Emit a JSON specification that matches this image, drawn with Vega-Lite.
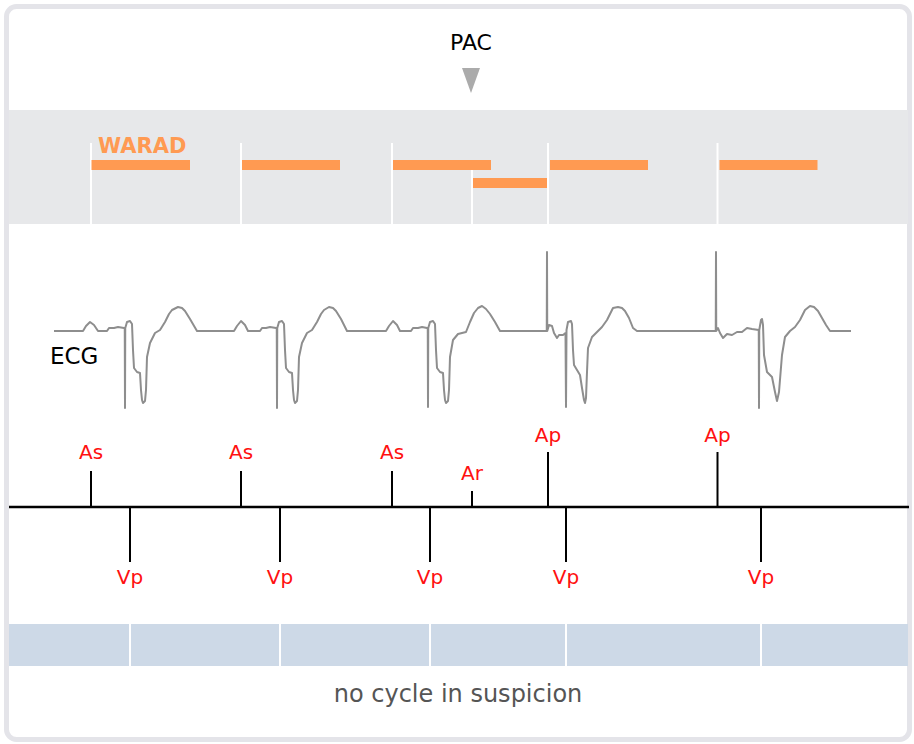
{
  "$schema": "https://vega.github.io/schema/vega-lite/v6.json",
  "width": 914,
  "height": 744,
  "autosize": {"type": "fit", "contains": "padding"},
  "padding": 0,
  "background": "white",
  "config": {"view": {"stroke": null}, "font": "DejaVu Sans"},
  "datasets": {
    "events": [
      {"t": 364, "label": "As", "chamber": "A"},
      {"t": 520, "label": "Vp", "chamber": "V"},
      {"t": 964, "label": "As", "chamber": "A"},
      {"t": 1120, "label": "Vp", "chamber": "V"},
      {"t": 1568, "label": "As", "chamber": "A"},
      {"t": 1720, "label": "Vp", "chamber": "V"},
      {"t": 1888, "label": "Ar", "chamber": "A"},
      {"t": 2192, "label": "Ap", "chamber": "A"},
      {"t": 2264, "label": "Vp", "chamber": "V"},
      {"t": 2870, "label": "Ap", "chamber": "A"},
      {"t": 3044, "label": "Vp", "chamber": "V"}
    ],
    "warad": [
      {"start": 366, "end": 760, "row": 1},
      {"start": 968, "end": 1360, "row": 1},
      {"start": 1572, "end": 1964, "row": 1},
      {"start": 1892, "end": 2188, "row": 2},
      {"start": 2200, "end": 2592, "row": 1},
      {"start": 2878, "end": 3270, "row": 1}
    ],
    "ecg": [
      {"t": 216, "mV": 0}, {"t": 332, "mV": 0}, {"t": 344, "mV": 0.125}, {"t": 360, "mV": 0.225}, {"t": 376, "mV": 0.15}, {"t": 392, "mV": 0},
      {"t": 428, "mV": 0}, {"t": 436, "mV": 0.075}, {"t": 456, "mV": 0.075}, {"t": 472, "mV": 0.1}, {"t": 496, "mV": 0.075}, {"t": 499, "mV": 0.075},
      {"t": 500, "mV": -1.925}, {"t": 501, "mV": 0.075}, {"t": 508, "mV": 0.225}, {"t": 520, "mV": 0.25}, {"t": 528, "mV": 0.175},
      {"t": 532, "mV": -0.475}, {"t": 536, "mV": -0.925}, {"t": 548, "mV": -1.025}, {"t": 560, "mV": -1.05}, {"t": 564, "mV": -1.475},
      {"t": 568, "mV": -1.725}, {"t": 572, "mV": -1.8}, {"t": 580, "mV": -1.75}, {"t": 584, "mV": -1.475}, {"t": 588, "mV": -0.65},
      {"t": 600, "mV": -0.3}, {"t": 620, "mV": -0.05}, {"t": 640, "mV": 0.025}, {"t": 660, "mV": 0.225}, {"t": 676, "mV": 0.425},
      {"t": 688, "mV": 0.525}, {"t": 712, "mV": 0.6}, {"t": 728, "mV": 0.575}, {"t": 740, "mV": 0.5}, {"t": 760, "mV": 0.3}, {"t": 788, "mV": 0},
      {"t": 936, "mV": 0}, {"t": 948, "mV": 0.125}, {"t": 964, "mV": 0.25}, {"t": 980, "mV": 0.15}, {"t": 992, "mV": 0},
      {"t": 1040, "mV": 0}, {"t": 1048, "mV": 0.075}, {"t": 1064, "mV": 0.075}, {"t": 1080, "mV": 0.1}, {"t": 1104, "mV": 0.075}, {"t": 1107, "mV": 0.075},
      {"t": 1108, "mV": -1.925}, {"t": 1109, "mV": 0.075}, {"t": 1116, "mV": 0.225}, {"t": 1128, "mV": 0.25}, {"t": 1136, "mV": 0.175},
      {"t": 1140, "mV": -0.475}, {"t": 1144, "mV": -0.925}, {"t": 1156, "mV": -1.025}, {"t": 1168, "mV": -1.05}, {"t": 1172, "mV": -1.475},
      {"t": 1176, "mV": -1.725}, {"t": 1180, "mV": -1.8}, {"t": 1188, "mV": -1.75}, {"t": 1192, "mV": -1.475}, {"t": 1196, "mV": -0.65},
      {"t": 1208, "mV": -0.3}, {"t": 1228, "mV": -0.05}, {"t": 1248, "mV": 0.025}, {"t": 1268, "mV": 0.225}, {"t": 1284, "mV": 0.425},
      {"t": 1296, "mV": 0.525}, {"t": 1316, "mV": 0.6}, {"t": 1332, "mV": 0.575}, {"t": 1344, "mV": 0.5}, {"t": 1364, "mV": 0.3}, {"t": 1388, "mV": 0},
      {"t": 1544, "mV": 0}, {"t": 1556, "mV": 0.125}, {"t": 1572, "mV": 0.25}, {"t": 1588, "mV": 0.15}, {"t": 1600, "mV": 0},
      {"t": 1644, "mV": 0}, {"t": 1652, "mV": 0.075}, {"t": 1672, "mV": 0.075}, {"t": 1688, "mV": 0.1}, {"t": 1708, "mV": 0.075}, {"t": 1711, "mV": 0.075},
      {"t": 1712, "mV": -1.9}, {"t": 1713, "mV": 0.075}, {"t": 1720, "mV": 0.225}, {"t": 1732, "mV": 0.25}, {"t": 1740, "mV": 0.175},
      {"t": 1744, "mV": -0.475}, {"t": 1748, "mV": -0.925}, {"t": 1760, "mV": -1.025}, {"t": 1772, "mV": -1.05}, {"t": 1776, "mV": -1.475},
      {"t": 1780, "mV": -1.725}, {"t": 1784, "mV": -1.8}, {"t": 1792, "mV": -1.75}, {"t": 1796, "mV": -1.475}, {"t": 1800, "mV": -0.65},
      {"t": 1812, "mV": -0.225}, {"t": 1832, "mV": -0.075}, {"t": 1864, "mV": -0.025}, {"t": 1880, "mV": 0.225}, {"t": 1896, "mV": 0.45},
      {"t": 1912, "mV": 0.575}, {"t": 1928, "mV": 0.625}, {"t": 1944, "mV": 0.55}, {"t": 1960, "mV": 0.425}, {"t": 1980, "mV": 0.225}, {"t": 2000, "mV": 0},
      {"t": 2187, "mV": 0}, {"t": 2188, "mV": 1.975}, {"t": 2189, "mV": 0},
      {"t": 2196, "mV": 0.15}, {"t": 2208, "mV": 0.125}, {"t": 2216, "mV": -0.05}, {"t": 2228, "mV": -0.175}, {"t": 2236, "mV": -0.1},
      {"t": 2252, "mV": -0.1}, {"t": 2262, "mV": -0.05}, {"t": 2264, "mV": -1.9}, {"t": 2266, "mV": 0.025}, {"t": 2272, "mV": 0.225},
      {"t": 2284, "mV": 0.25}, {"t": 2288, "mV": 0.175}, {"t": 2292, "mV": -0.475}, {"t": 2296, "mV": -0.85}, {"t": 2308, "mV": -0.975},
      {"t": 2320, "mV": -1.1}, {"t": 2328, "mV": -1.425}, {"t": 2336, "mV": -1.725}, {"t": 2340, "mV": -1.8}, {"t": 2344, "mV": -1.675},
      {"t": 2348, "mV": -1.025}, {"t": 2352, "mV": -0.425}, {"t": 2368, "mV": -0.15}, {"t": 2388, "mV": -0.025}, {"t": 2408, "mV": 0.1},
      {"t": 2428, "mV": 0.275}, {"t": 2452, "mV": 0.575}, {"t": 2472, "mV": 0.6}, {"t": 2488, "mV": 0.575}, {"t": 2500, "mV": 0.5},
      {"t": 2516, "mV": 0.325}, {"t": 2532, "mV": 0.075}, {"t": 2548, "mV": 0},
      {"t": 2863, "mV": 0}, {"t": 2864, "mV": 1.975}, {"t": 2865, "mV": 0},
      {"t": 2872, "mV": 0.075}, {"t": 2880, "mV": -0.05}, {"t": 2892, "mV": -0.175}, {"t": 2908, "mV": -0.075}, {"t": 2928, "mV": -0.1},
      {"t": 2948, "mV": -0.025}, {"t": 2968, "mV": -0.025}, {"t": 2988, "mV": 0.075}, {"t": 3008, "mV": 0.05}, {"t": 3035, "mV": 0.025},
      {"t": 3036, "mV": -1.925}, {"t": 3037, "mV": 0.025}, {"t": 3044, "mV": 0.275}, {"t": 3048, "mV": 0.3}, {"t": 3052, "mV": 0.15},
      {"t": 3056, "mV": -0.6}, {"t": 3068, "mV": -1.025}, {"t": 3088, "mV": -1.15}, {"t": 3100, "mV": -1.525}, {"t": 3108, "mV": -1.75},
      {"t": 3116, "mV": -1.525}, {"t": 3128, "mV": -0.6}, {"t": 3140, "mV": -0.15}, {"t": 3160, "mV": 0}, {"t": 3180, "mV": 0.1},
      {"t": 3200, "mV": 0.275}, {"t": 3220, "mV": 0.525}, {"t": 3240, "mV": 0.625}, {"t": 3256, "mV": 0.6}, {"t": 3272, "mV": 0.5},
      {"t": 3288, "mV": 0.325}, {"t": 3304, "mV": 0.15}, {"t": 3320, "mV": 0}, {"t": 3404, "mV": 0}
    ]
  },
  "layer": [
    {
      "layer": [
        {
          "data": {"values": [{}]},
          "mark": {"type": "rect", "fill": "white", "stroke": "#e4e4e9", "strokeWidth": 5, "cornerRadius": 10},
          "encoding": {
            "x": {"datum": 26, "type": "quantitative", "scale": {"domain": [0, 3656], "nice": false, "zero": false}, "axis": null},
            "x2": {"datum": 3638},
            "y": {"datum": 6.5, "type": "quantitative", "scale": {"domain": [0, 744], "reverse": true, "nice": false, "zero": false}, "axis": null},
            "y2": {"datum": 739.5}
          }
        },
        {
          "data": {"values": [{}]},
          "mark": {"type": "rect", "fill": "#e7e8ea"},
          "encoding": {
            "x": {"datum": 36, "type": "quantitative"},
            "x2": {"datum": 3632},
            "y": {"datum": 110, "type": "quantitative"},
            "y2": {"datum": 224}
          }
        },
        {
          "data": {"values": [{}]},
          "mark": {"type": "rect", "fill": "#cdd9e7"},
          "encoding": {
            "x": {"datum": 36, "type": "quantitative"},
            "x2": {"datum": 3632},
            "y": {"datum": 624, "type": "quantitative"},
            "y2": {"datum": 666}
          }
        },
        {
          "data": {"name": "events"},
          "transform": [{"filter": "datum.chamber === 'A' && datum.label !== 'Ar'"}],
          "mark": {"type": "rule", "color": "white", "strokeWidth": 2},
          "encoding": {
            "x": {"field": "t", "type": "quantitative"},
            "y": {"datum": 143, "type": "quantitative"},
            "y2": {"datum": 224}
          }
        },
        {
          "data": {"name": "events"},
          "transform": [{"filter": "datum.label === 'Ar'"}],
          "mark": {"type": "rule", "color": "white", "strokeWidth": 2},
          "encoding": {
            "x": {"field": "t", "type": "quantitative"},
            "y": {"datum": 168, "type": "quantitative"},
            "y2": {"datum": 224}
          }
        },
        {
          "data": {"name": "warad"},
          "transform": [{"filter": "datum.row === 1"}],
          "mark": {"type": "rect", "fill": "#ff9a52"},
          "encoding": {
            "x": {"field": "start", "type": "quantitative"},
            "x2": {"field": "end"},
            "y": {"datum": 160, "type": "quantitative"},
            "y2": {"datum": 170}
          }
        },
        {
          "data": {"name": "warad"},
          "transform": [{"filter": "datum.row === 2"}],
          "mark": {"type": "rect", "fill": "#ff9a52"},
          "encoding": {
            "x": {"field": "start", "type": "quantitative"},
            "x2": {"field": "end"},
            "y": {"datum": 178, "type": "quantitative"},
            "y2": {"datum": 188}
          }
        },
        {
          "data": {"values": [{}]},
          "mark": {"type": "text", "text": "WARAD", "fontSize": 21, "fontWeight": "bold", "color": "#ff9a52", "align": "left", "baseline": "alphabetic"},
          "encoding": {
            "x": {"datum": 392, "type": "quantitative"},
            "y": {"datum": 153, "type": "quantitative"}
          }
        },
        {
          "data": {"values": [{}]},
          "mark": {"type": "text", "text": "PAC", "fontSize": 22, "color": "black", "align": "center", "baseline": "alphabetic"},
          "encoding": {
            "x": {"datum": 1884, "type": "quantitative"},
            "y": {"datum": 50, "type": "quantitative"}
          }
        },
        {
          "data": {"values": [{}]},
          "mark": {"type": "point", "shape": "M-1,-1.4L1,-1.4L0,1.4Z", "size": 324, "filled": true, "color": "#ababab", "opacity": 1, "strokeWidth": 0},
          "encoding": {
            "x": {"datum": 1884, "type": "quantitative"},
            "y": {"datum": 80.5, "type": "quantitative"}
          }
        },
        {
          "data": {"values": [{}]},
          "mark": {"type": "text", "text": "ECG", "fontSize": 23, "color": "black", "align": "left", "baseline": "alphabetic"},
          "encoding": {
            "x": {"datum": 200, "type": "quantitative"},
            "y": {"datum": 364, "type": "quantitative"}
          }
        },
        {
          "data": {"values": [{}]},
          "mark": {"type": "rule", "color": "black", "strokeWidth": 2.5},
          "encoding": {
            "x": {"datum": 36, "type": "quantitative"},
            "x2": {"datum": 3636},
            "y": {"datum": 507, "type": "quantitative"}
          }
        },
        {
          "data": {"name": "events"},
          "transform": [{"filter": "datum.label === 'As'"}],
          "layer": [
            {"mark": {"type": "rule", "color": "black", "strokeWidth": 2}, "encoding": {"y": {"datum": 471, "type": "quantitative"}, "y2": {"datum": 507}}},
            {"mark": {"type": "text", "fontSize": 20, "color": "#ff1010", "align": "center", "baseline": "alphabetic"}, "encoding": {"y": {"datum": 459, "type": "quantitative"}, "text": {"field": "label"}}}
          ],
          "encoding": {"x": {"field": "t", "type": "quantitative"}}
        },
        {
          "data": {"name": "events"},
          "transform": [{"filter": "datum.label === 'Ap'"}],
          "layer": [
            {"mark": {"type": "rule", "color": "black", "strokeWidth": 2}, "encoding": {"y": {"datum": 452, "type": "quantitative"}, "y2": {"datum": 507}}},
            {"mark": {"type": "text", "fontSize": 20, "color": "#ff1010", "align": "center", "baseline": "alphabetic"}, "encoding": {"y": {"datum": 442, "type": "quantitative"}, "text": {"field": "label"}}}
          ],
          "encoding": {"x": {"field": "t", "type": "quantitative"}}
        },
        {
          "data": {"name": "events"},
          "transform": [{"filter": "datum.label === 'Ar'"}],
          "layer": [
            {"mark": {"type": "rule", "color": "black", "strokeWidth": 2}, "encoding": {"y": {"datum": 491, "type": "quantitative"}, "y2": {"datum": 507}}},
            {"mark": {"type": "text", "fontSize": 20, "color": "#ff1010", "align": "center", "baseline": "alphabetic"}, "encoding": {"y": {"datum": 480, "type": "quantitative"}, "text": {"field": "label"}}}
          ],
          "encoding": {"x": {"field": "t", "type": "quantitative"}}
        },
        {
          "data": {"name": "events"},
          "transform": [{"filter": "datum.label === 'Vp'"}],
          "layer": [
            {"mark": {"type": "rule", "color": "black", "strokeWidth": 2}, "encoding": {"y": {"datum": 507, "type": "quantitative"}, "y2": {"datum": 562}}},
            {"mark": {"type": "text", "fontSize": 20, "color": "#ff1010", "align": "center", "baseline": "alphabetic"}, "encoding": {"y": {"datum": 584, "type": "quantitative"}, "text": {"field": "label"}}},
            {"mark": {"type": "rule", "color": "white", "strokeWidth": 2}, "encoding": {"y": {"datum": 624, "type": "quantitative"}, "y2": {"datum": 666}}}
          ],
          "encoding": {"x": {"field": "t", "type": "quantitative"}}
        },
        {
          "data": {"values": [{}]},
          "mark": {"type": "text", "text": "no cycle in suspicion", "fontSize": 24, "color": "#555555", "align": "center", "baseline": "alphabetic"},
          "encoding": {
            "x": {"datum": 1832, "type": "quantitative"},
            "y": {"datum": 702, "type": "quantitative"}
          }
        }
      ]
    },
    {
      "data": {"name": "ecg"},
      "mark": {"type": "line", "color": "#8e8e8e", "strokeWidth": 2, "strokeJoin": "round"},
      "encoding": {
        "x": {"field": "t", "type": "quantitative"},
        "y": {"field": "mV", "type": "quantitative", "scale": {"domain": [-10.325, 8.275], "nice": false, "zero": false}, "axis": null}
      }
    }
  ],
  "resolve": {"scale": {"y": "independent"}}
}
